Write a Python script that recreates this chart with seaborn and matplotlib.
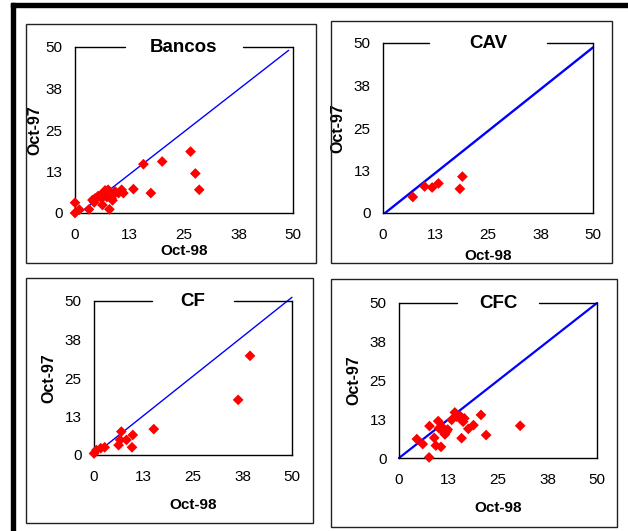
import matplotlib
matplotlib.use("Agg")
import matplotlib.pyplot as plt
import seaborn as sns
import pandas as pd
from matplotlib.patches import Rectangle

# values (Oct-98 on x, Oct-97 on y)
bancos_x = [0, 0, 1, 3.2, 4, 4.4, 4.6, 5.3, 5.8, 6.1, 6.3, 6.9, 7.3, 7.6, 7.9,
            8.4, 8.6, 8.8, 9.2, 10, 10.7, 11.1, 13.4, 15.7, 17.4, 20, 26.5, 27.6, 28.5]
bancos_y = [3.1, 0, 1, 1.1, 3.9, 3.2, 4.4, 5.1, 5.3, 4.4, 2.4, 6.8, 4.8, 7, 1.1,
            4.4, 3.8, 5.5, 6.5, 6, 7, 6, 7.2, 14.7, 6, 15.5, 18.5, 11.9, 7]

cav_x = [7.1, 9.9, 11.7, 13.2, 18.3, 18.9]
cav_y = [4.7, 7.8, 7.5, 8.7, 7.1, 10.7]

cf_x = [0, 0.6, 1.7, 2.7, 6.2, 6.9, 6.6, 8.2, 9.8, 9.6, 15.1, 36.4, 39.4]
cf_y = [0.5, 1.6, 2.2, 2.5, 3.2, 7.6, 4.9, 4.9, 6.5, 2.5, 8.4, 17.9, 32.2]

cfc_x = [4.5, 6, 7.6, 7.7, 8.9, 9.3, 9.9, 10.6, 10.1, 10.8, 11.2, 11.6, 12, 11.5,
         12.3, 13.3, 14.1, 14.6, 15.4, 15.8, 15.8, 16.2, 16.5, 17.5, 18.8, 20.7, 22, 30.6]
cfc_y = [6.1, 4.5, 0.2, 10.3, 6.5, 4, 11.9, 3.6, 9.6, 10.1, 9, 7.6, 8.5, 8.0,
         9.2, 12.3, 14.7, 13.3, 13.6, 12.3, 6.4, 11.7, 12.8, 9.4, 10.6, 13.9, 7.4, 10.4]

# end points of the blue reference line in each panel
line_bancos = ([1.1, 49], [0, 49])
line_cav = ([0.5, 50], [0, 48.7])
line_cf = ([0, 50], [0, 51.2])
line_cfc = ([0, 50], [0, 50])

titles = ["Bancos", "CAV", "CF", "CFC"]
tick_vals = [0, 12.5, 25, 37.5, 50]
tick_labels = ["0", "13", "25", "38", "50"]

sns.set_style("white")
plt.rcParams["font.family"] = ["Liberation Sans", "DejaVu Sans"]
plt.rcParams["text.color"] = "black"
plt.rcParams["axes.labelcolor"] = "black"
plt.rcParams["xtick.color"] = "black"
plt.rcParams["ytick.color"] = "black"

W, H = 628, 531
fig = plt.figure(figsize=(W / 100, H / 100), dpi=100)


def px_rect(x0, y0, x1, y1):
    return [x0 / W, 1 - y1 / H, (x1 - x0) / W, (y1 - y0) / H]


# outer frame (thick black top and left bars) and the four panel boxes
fig.patches.append(Rectangle((11 / W, 1 - 7 / H), 1, 4 / H, transform=fig.transFigure,
                             color="black", zorder=0))
fig.patches.append(Rectangle((11 / W, 0), 4 / W, 1 - 3 / H, transform=fig.transFigure,
                             color="black", zorder=0))
for (x0, y0, x1, y1) in [(26, 24, 316, 263), (331, 21, 612, 263),
                         (26, 278, 313, 523), (331, 279, 617, 527)]:
    r = px_rect(x0, y0, x1, y1)
    fig.patches.append(Rectangle((r[0], r[1]), r[2], r[3], transform=fig.transFigure,
                                 fill=False, edgecolor="#222222", linewidth=1, zorder=0))

panels = [
    dict(rect=px_rect(75, 47, 293, 213), x=bancos_x, y=bancos_y, line=line_bancos,
         lw=1.0, gap=0.27, xpad=1, ypad=2),
    dict(rect=px_rect(383, 43, 593, 213), x=cav_x, y=cav_y, line=line_cav,
         lw=1.7, gap=0.28, xpad=5, ypad=6),
    dict(rect=px_rect(94, 301, 292, 455), x=cf_x, y=cf_y, line=line_cf,
         lw=1.0, gap=0.205, xpad=10, ypad=6),
    dict(rect=px_rect(399, 303, 597, 458), x=cfc_x, y=cfc_y, line=line_cfc,
         lw=1.6, gap=0.207, xpad=10, ypad=6),
]

for title, p in zip(titles, panels):
    ax = fig.add_axes(p["rect"])
    df = pd.DataFrame({"Oct-98": p["x"], "Oct-97": p["y"]})
    lx, ly = p["line"]
    sns.lineplot(x=lx, y=ly, ax=ax, color="#0000FF", linewidth=p["lw"], clip_on=False)
    sns.scatterplot(data=df, x="Oct-98", y="Oct-97", ax=ax, marker="D", s=30,
                    color="#FF0000", edgecolor="none", linewidth=0, clip_on=False,
                    zorder=3)
    ax.set_xlim(0, 50)
    ax.set_ylim(0, 50)
    ax.set_xticks(tick_vals)
    ax.set_xticklabels(tick_labels)
    ax.set_yticks(tick_vals)
    ax.set_yticklabels(tick_labels)
    ax.tick_params(axis="x", length=0, pad=11, labelsize=11)
    ax.tick_params(axis="y", length=0, pad=9, labelsize=11)
    ax.set_xlabel("Oct-98", fontweight="bold", fontsize=11, labelpad=p["xpad"])
    ax.set_ylabel("Oct-97", fontweight="bold", fontsize=11.5, labelpad=p["ypad"])
    for side in ["left", "right", "bottom"]:
        ax.spines[side].set_visible(True)
        ax.spines[side].set_color("black")
        ax.spines[side].set_linewidth(1)
    ax.spines["top"].set_visible(False)
    # top frame is broken around the title
    g = p["gap"]
    ax.plot([0, 0.5 - g], [1, 1], transform=ax.transAxes, color="black", lw=1, clip_on=False)
    ax.plot([0.5 + g, 1], [1, 1], transform=ax.transAxes, color="black", lw=1, clip_on=False)
    ax.text(0.5, 1.0, title, transform=ax.transAxes, ha="center", va="center",
            fontsize=13.5, fontweight="bold")

fig.savefig("out.png", dpi=100)
